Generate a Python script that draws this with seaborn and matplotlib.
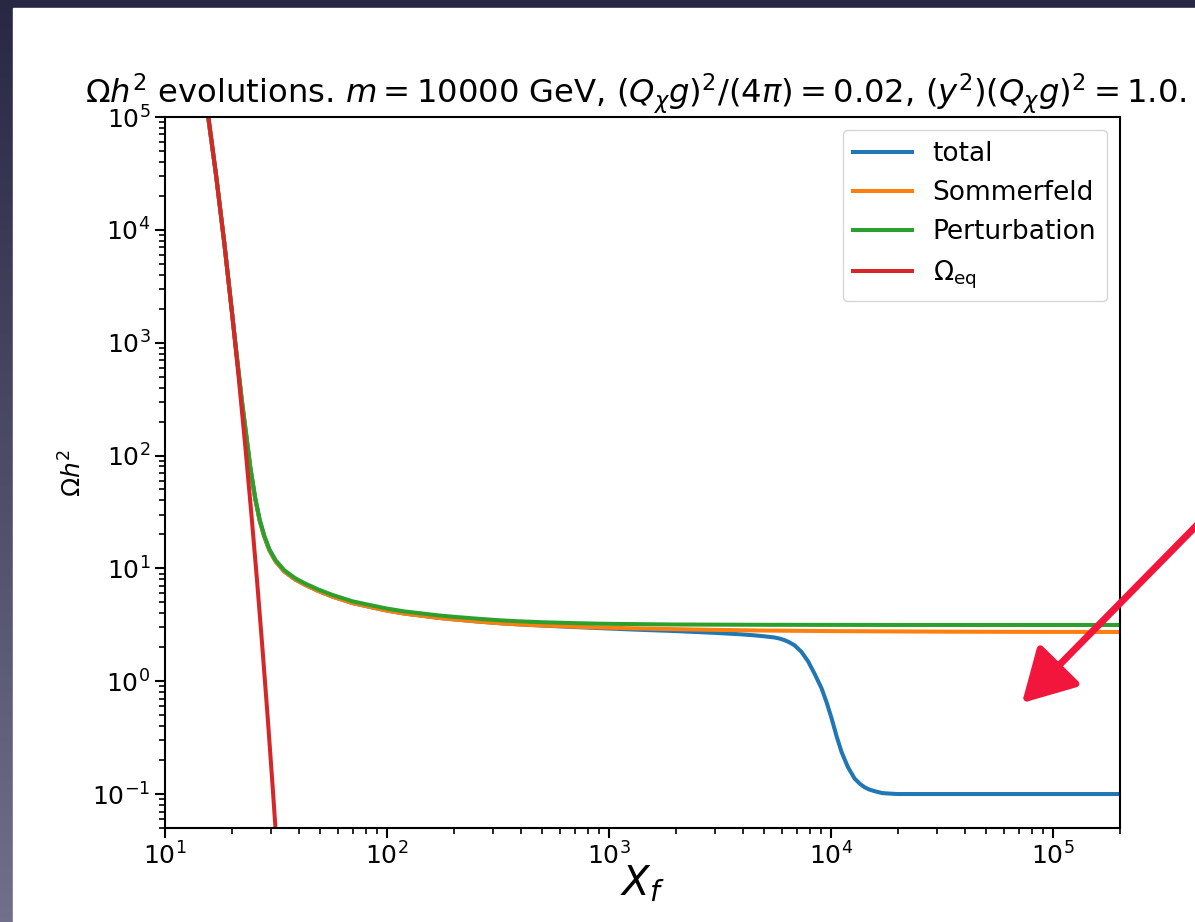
import numpy as np
import pandas as pd
import matplotlib
matplotlib.use("Agg")
import matplotlib.pyplot as plt
import seaborn as sns

# Values (log-log axes)
x_eq = [14.5, 15.7, 17.0, 18.5, 20.0, 21.5, 23.0, 24.5, 26.0, 27.5, 29.0, 30.5, 32.0]
y_eq = [3.0e5, 1.0e5, 3.0e4, 7.6e3, 1.9e3, 480, 120, 30, 7.6, 1.9, 0.48, 0.12, 0.030]

x_pert = [14.5, 17.0, 18.5, 20.0, 21.0, 22.2, 23.2, 24.2, 25.5, 26.7, 28.0, 29.5, 31.5,
          34.5, 38.5, 43, 49, 57, 70, 85, 100, 120, 141, 170, 200, 260, 325, 400, 500,
          700, 920, 1400, 2000, 3000, 5000, 2.0e4, 2.0e5]
y_pert = [3.0e5, 3.0e4, 7.6e3, 1.9e3, 800, 305, 155, 80, 42, 27, 19.5, 14.8, 11.8,
          9.6, 8.2, 7.3, 6.5, 5.8, 5.1, 4.7, 4.4, 4.15, 4.0, 3.83, 3.72, 3.57, 3.46, 3.39,
          3.33, 3.27, 3.23, 3.2, 3.18, 3.17, 3.16, 3.15, 3.15]

x_somm = [14.5, 17.0, 18.5, 20.0, 21.0, 22.2, 23.2, 24.2, 25.5, 26.7, 28.0, 29.5, 31.5,
          34.5, 38.5, 43, 49, 57, 70, 85, 100, 120, 141, 170, 200, 260, 325, 400, 500,
          700, 920, 1400, 2000, 3000, 5000, 1.0e4, 2.0e4, 5.0e4, 2.0e5]
y_somm = [3.0e5, 3.0e4, 7.6e3, 1.9e3, 790, 300, 152, 78, 41, 26.4, 19.1, 14.5, 11.5,
          9.35, 7.98, 7.1, 6.3, 5.6, 4.92, 4.52, 4.22, 3.97, 3.82, 3.64, 3.53, 3.37, 3.26,
          3.18, 3.12, 3.04, 2.99, 2.93, 2.89, 2.85, 2.81, 2.78, 2.76, 2.74, 2.73]

x_total = [14.5, 17.0, 18.5, 20.0, 21.0, 22.2, 23.2, 24.2, 25.5, 26.7, 28.0, 29.5, 31.5,
           34.5, 38.5, 43, 49, 57, 70, 85, 100, 120, 141, 170, 200, 260, 325, 400, 500,
           700, 920, 1400, 2000, 3000, 3950, 4500, 5000, 5560, 5890, 6170, 6460, 6840,
           7350, 7890, 8450, 9060, 9550, 10050, 10590, 11140, 11890, 12760, 13490, 14130,
           14790, 15700, 16980, 18200, 19950, 22390, 5.0e4, 2.0e5]
y_total = [3.0e5, 3.0e4, 7.6e3, 1.9e3, 790, 300, 152, 78, 41, 26.4, 19.1, 14.5, 11.5,
           9.35, 7.98, 7.1, 6.3, 5.6, 4.92, 4.52, 4.22, 3.97, 3.82, 3.64, 3.53, 3.37, 3.26,
           3.18, 3.11, 3.02, 2.95, 2.85, 2.78, 2.68, 2.6, 2.55, 2.5, 2.44, 2.38, 2.31,
           2.22, 2.08, 1.82, 1.49, 1.15, 0.863, 0.646, 0.468, 0.324, 0.236, 0.174, 0.137,
           0.123, 0.115, 0.110, 0.106, 0.102, 0.101, 0.1, 0.1, 0.1, 0.1]

labels = ["total", "Sommerfeld", "Perturbation", r"$\Omega_{\rm eq}$"]
colors = ["#1f77b4", "#ff7f0e", "#2ca02c", "#d62728"]

# long table for seaborn
df = pd.concat([
    pd.DataFrame({"x": x_total, "y": y_total, "curve": labels[0]}),
    pd.DataFrame({"x": x_somm, "y": y_somm, "curve": labels[1]}),
    pd.DataFrame({"x": x_pert, "y": y_pert, "curve": labels[2]}),
    pd.DataFrame({"x": x_eq, "y": y_eq, "curve": labels[3]}),
])

fig = plt.figure(figsize=(11.95, 9.22), dpi=100)

# slide background: dark gradient with a white panel on it
bg = fig.add_axes([0, 0, 1, 1], zorder=-10)
top_c = np.array([40, 40, 68]) / 255
bot_c = np.array([112, 112, 138]) / 255
t = np.linspace(0, 1, 256)[:, None]
grad = (top_c * (1 - t) + bot_c * t)[:, None, :]
bg.imshow(grad, aspect="auto", extent=[0, 1, 0, 1])
bg.add_patch(plt.Rectangle((13 / 1195, 0), 1, 1 - 8 / 922, color="white"))
bg.set_xlim(0, 1)
bg.set_ylim(0, 1)
bg.axis("off")

ax = fig.add_axes([165 / 1195, 1 - 828 / 922, 955 / 1195, 711 / 922])
sns.lineplot(data=df, x="x", y="y", hue="curve", hue_order=labels,
             palette=colors, linewidth=2.9, ax=ax, sort=True, estimator=None)
ax.set_xscale("log")
ax.set_yscale("log")
ax.set_xlim(10, 2.0e5)
ax.set_ylim(0.05, 1.0e5)

ax.set_xlabel(r"$X_f$", fontsize=29, labelpad=-4)
ax.set_ylabel(r"$\Omega h^2$", fontsize=18)
ax.set_title(r"$\Omega h^2$ evolutions. $m = 10000$ GeV, $(Q_\chi g)^2/(4\pi) = 0.02$, "
             r"$(y^2)(Q_\chi g)^2 = 1.0$.", fontsize=23.2, pad=4, x=0.493)
ax.tick_params(which="major", labelsize=18, length=7, width=1.5)
ax.tick_params(which="minor", length=4, width=1.2)
for s in ax.spines.values():
    s.set_linewidth(1.5)

ax.legend(loc="upper right", fontsize=19, framealpha=0.8, borderaxespad=0.5,
          handlelength=2.2)

# red slide arrow
fig.patches.append(matplotlib.patches.FancyArrowPatch(
    (1200 / 1195, 1 - 522 / 922), (1020 / 1195, 1 - 705 / 922),
    transform=fig.transFigure, arrowstyle="-|>,head_length=1.6,head_width=0.9",
    mutation_scale=20, color="#f2163c", linewidth=5, zorder=20))

fig.savefig("out.png", dpi=100)
